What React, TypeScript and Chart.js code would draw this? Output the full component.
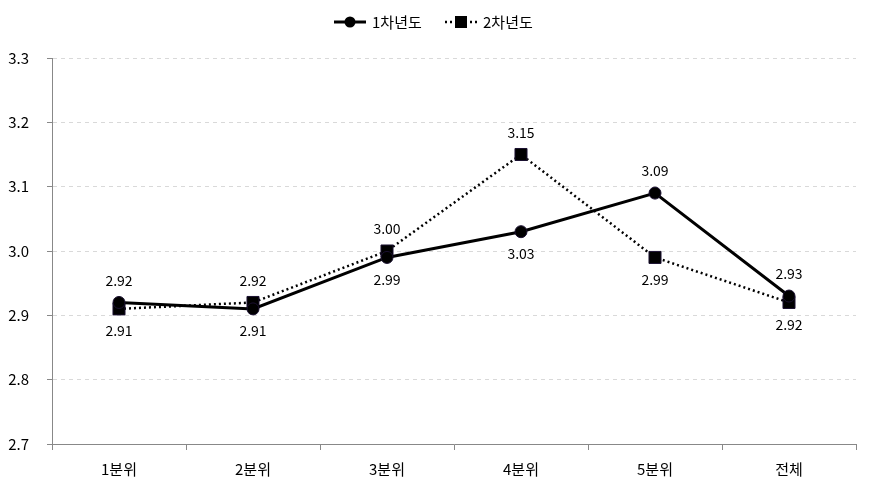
import React, { useEffect, useRef } from "react";
import { Chart, registerables } from "chart.js";

Chart.register(...registerables);

const categories = ["1분위", "2분위", "3분위", "4분위", "5분위", "전체"];
const year1 = [2.92, 2.91, 2.99, 3.03, 3.09, 2.93];
const year2 = [2.91, 2.92, 3.0, 3.15, 2.99, 2.92];
const year1LabelPos = ["above", "below", "below", "below", "above", "above"];
const year2LabelPos = ["below", "above", "above", "above", "below", "below"];
const seriesNames = ["1차년도", "2차년도"];
const yTicks = [2.7, 2.8, 2.9, 3.0, 3.1, 3.2, 3.3];

const FONT = "'Noto Sans CJK KR', 'Noto Sans', sans-serif";

const labelPlugin = {
  id: "valueLabels",
  afterDatasetsDraw(chart: any) {
    const ctx = chart.ctx;
    const positions = [year1LabelPos, year2LabelPos];
    ctx.save();
    ctx.font = `14px ${FONT}`;
    ctx.fillStyle = "#000";
    ctx.textAlign = "center";
    ctx.textBaseline = "middle";
    chart.data.datasets.forEach((ds: any, di: number) => {
      const meta = chart.getDatasetMeta(di);
      meta.data.forEach((pt: any, i: number) => {
        const dy = positions[di][i] === "above" ? -22 : 22;
        ctx.fillText(Number(ds.data[i]).toFixed(2), pt.x, pt.y + dy);
      });
    });
    ctx.restore();
  },
};

const legendPlugin = {
  id: "customLegend",
  afterDraw(chart: any) {
    const ctx = chart.ctx;
    ctx.save();
    ctx.font = `15px ${FONT}`;
    ctx.textBaseline = "middle";
    ctx.fillStyle = "#000";
    const y = 22;
    ctx.strokeStyle = "#000";
    ctx.lineWidth = 3;
    ctx.setLineDash([]);
    ctx.beginPath();
    ctx.moveTo(334, y);
    ctx.lineTo(366, y);
    ctx.stroke();
    ctx.beginPath();
    ctx.arc(350, y, 5.5, 0, Math.PI * 2);
    ctx.fill();
    ctx.textAlign = "left";
    ctx.fillText(seriesNames[0], 372, y);
    ctx.lineWidth = 2.5;
    ctx.setLineDash([2, 3]);
    ctx.beginPath();
    ctx.moveTo(445, y);
    ctx.lineTo(477, y);
    ctx.stroke();
    ctx.setLineDash([]);
    ctx.fillRect(455, y - 6, 12, 12);
    ctx.fillText(seriesNames[1], 483, y);
    ctx.restore();
  },
};

export default function App() {
  const ref = useRef<HTMLCanvasElement>(null);
  useEffect(() => {
    document.body.style.margin = "0";
    const chart = new Chart(ref.current!, {
      type: "line",
      data: {
        labels: categories,
        datasets: [
          {
            label: seriesNames[0],
            data: year1,
            borderColor: "#000",
            backgroundColor: "#000",
            borderWidth: 3,
            pointStyle: "circle",
            pointRadius: 6,
            pointBackgroundColor: "#000",
            pointBorderColor: "#1a1030",
            pointBorderWidth: 1,
            tension: 0,
          },
          {
            label: seriesNames[1],
            data: year2,
            borderColor: "#000",
            backgroundColor: "#000",
            borderWidth: 2.5,
            borderDash: [2, 3],
            pointStyle: "rect",
            pointRadius: 8.5,
            pointBackgroundColor: "#000",
            pointBorderColor: "#1a1030",
            pointBorderWidth: 1,
            tension: 0,
          },
        ],
      },
      options: {
        animation: false,
        responsive: false,
        layout: { padding: { top: 58, right: 15, left: 0, bottom: 0 } },
        plugins: { legend: { display: false }, tooltip: { enabled: false } },
        scales: {
          x: {
            offset: true,
            grid: {
              offset: true,
              display: true,
              drawOnChartArea: false,
              color: "#888",
              tickLength: 6,
            },
            border: { color: "#888", width: 1 },
            ticks: { color: "#000", font: { family: FONT, size: 15 }, padding: 10 },
            afterFit: (s: any) => {
              s.height = 49;
            },
          },
          y: {
            min: 2.7,
            max: 3.3,
            afterBuildTicks: (s: any) => {
              s.ticks = yTicks.map((v) => ({ value: v }));
            },
            grid: {
              color: "#d9d9d9",
              tickLength: 5,
              tickColor: "#888",
            },
            border: { color: "#888", width: 1, dash: [4, 4] } as any,
            ticks: {
              color: "#000",
              font: { family: FONT, size: 15 },
              padding: 18,
              callback: (v: any) => Number(v).toFixed(1),
            },
            afterFit: (s: any) => {
              s.width = 52;
            },
          },
        },
      },
      plugins: [labelPlugin, legendPlugin],
    });
    return () => chart.destroy();
  }, []);
  return (
    <div style={{ width: 871, height: 493 }}>
      <canvas ref={ref} width={871} height={493} />
    </div>
  );
}
